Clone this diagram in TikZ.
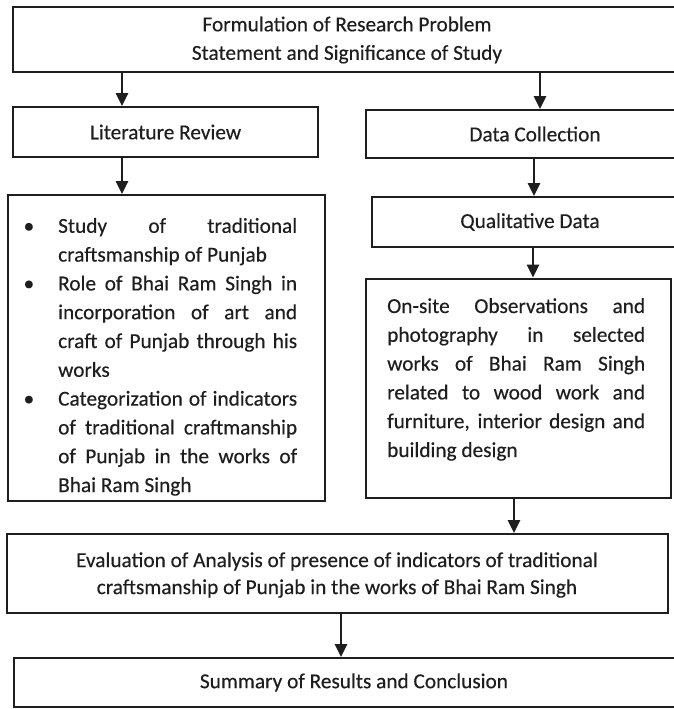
\documentclass[tikz,border=0pt]{standalone}
\usepackage{fontspec}
\setmainfont{Carlito}[UprightFeatures={FakeBold=0.3}]
\usetikzlibrary{arrows.meta}
\definecolor{ink}{HTML}{1E1E1E}
\newlength\bw \setlength\bw{239pt}
\newlength\ow \setlength\ow{258pt}
% justified line: every interword space stretches equally
\newcommand\jline[2]{\hbox to #1{\spaceskip=0.226em plus 1fil\xspaceskip=\spaceskip #2}}
\newcommand\nline[1]{\hbox{#1}}
\newcommand\bitem{\llap{\textbullet\hspace{24pt}}}
\tikzset{
  box/.style={draw=ink, line width=2pt, inner sep=0pt, fill=white},
  txt/.style={inner sep=0pt, text=ink, font=\fontsize{21.3}{28.5}\selectfont},
  arr/.style={draw=ink, line width=2.6pt, -{Triangle[length=13pt,width=12pt]}}
}
\begin{document}
\begin{tikzpicture}[x=1pt,y=-1pt]
\useasboundingbox (0,0) rectangle (674,709);
\clip (0,0) rectangle (674,709);
\fill[white] (0,0) rectangle (674,709);
% boxes
\node[box, minimum width=670pt, minimum height=65pt] (top) at (348,39.5) {};
\node[box, minimum width=305pt, minimum height=50pt] (lit) at (165.5,132) {};
\node[box, minimum width=338pt, minimum height=48pt] (data) at (535,134) {};
\node[box, minimum width=317pt, minimum height=306pt] (bul) at (166.5,348) {};
\node[box, minimum width=316pt, minimum height=50pt] (qual) at (530,222) {};
\node[box, minimum width=305pt, minimum height=219pt] (onsite) at (518.5,388) {};
\node[box, minimum width=661pt, minimum height=79pt] (eval) at (337.5,573.5) {};
\node[box, minimum width=680pt, minimum height=49pt] (sum) at (354,682.5) {};
% texts
\node[txt, align=center] (topt) at (347,40) {Formulation of Research Problem\\Statement and Significance of Study};
\node[txt] (litt) at (lit.center) {Literature Review};
\node[txt] (datat) at (data.center) {Data Collection};
\node[txt] (qualt) at (qual.center) {Qualitative Data};
\node[txt, anchor=base west] (bult) at (58,492) {\vbox{\hsize=\bw \baselineskip=28.8pt \lineskiplimit=-50pt
\jline{\bw}{\bitem Study of traditional}
\nline{craftsmanship of Punjab}
\jline{\bw}{\bitem Role of Bhai Ram Singh in}
\jline{\bw}{incorporation of art and}
\jline{\bw}{craft of Punjab through his}
\nline{works}
\jline{\bw}{\bitem Categorization of indicators}
\jline{\bw}{of traditional craftmanship}
\jline{\bw}{of Punjab in the works of}
\nline{Bhai Ram Singh}}};
\node[txt, anchor=base west] (onsitet) at (387,457) {\vbox{\hsize=\ow \baselineskip=28.8pt \lineskiplimit=-50pt
\jline{\ow}{On-site Observations and}
\jline{\ow}{photography in selected}
\jline{\ow}{works of Bhai Ram Singh}
\jline{\ow}{related to wood work and}
\jline{\ow}{furniture, interior design and}
\nline{building design}}};
\node[txt, align=center, font=\fontsize{21.3}{27}\selectfont] (evalt) at (337,575) {Evaluation of Analysis of presence of indicators of traditional\\craftsmanship of Punjab in the works of Bhai Ram Singh};
\node[txt] (sumt) at (sum.center) {Summary of Results and Conclusion};
% arrows
\draw[arr] (top.south -| 122,0) -- (lit.north -| 122,0);
\draw[arr] (top.south -| 540,0) -- (data.north -| 540,0);
\draw[arr] (lit.south -| 122,0) -- (bul.north -| 122,0);
\draw[arr] (data.south -| 534,0) -- (qual.north -| 534,0);
\draw[arr] (qual.south -| 533,0) -- (onsite.north -| 533,0);
\draw[arr] (onsite.south -| 514,0) -- (eval.north -| 514,0);
\draw[arr] (eval.south -| 341,0) -- (sum.north -| 341,0);
\end{tikzpicture}
\end{document}
